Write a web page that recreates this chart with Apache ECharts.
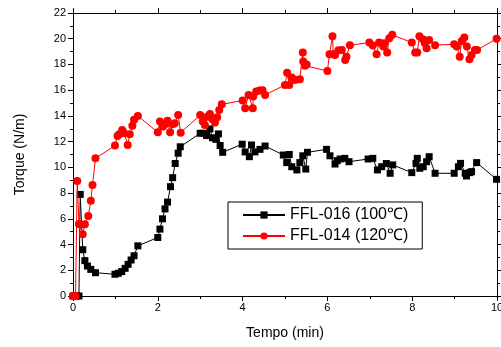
<!DOCTYPE html>
<html><head><meta charset="utf-8">
<script src="https://cdn.jsdelivr.net/npm/echarts@6/dist/echarts.min.js"></script>
<style>html,body{margin:0;padding:0;background:#fff}#c{width:501px;height:347px}</style>
</head><body><div id="c"></div>
<script>
var xTicks = [0,2,4,6,8,10];
var yTicks = [0,2,4,6,8,10,12,14,16,18,20,22];
var name016 = 'FFL-016 (100℃)';
var name014 = 'FFL-014 (120℃)';
var t016 = [0,0.04,0.08,0.14,0.17,0.23,0.28,0.34,0.42,0.53,0.99,1.07,1.15,1.23,1.30,1.37,1.44,1.53,2.0,2.05,2.11,2.17,2.23,2.30,2.35,2.41,2.48,2.53,3.0,3.09,3.15,3.23,3.29,3.37,3.43,3.47,3.53,3.99,4.06,4.16,4.21,4.29,4.41,4.53,4.96,5.04,5.10,5.16,5.28,5.35,5.42,5.49,5.53,5.98,6.06,6.18,6.23,6.30,6.41,6.51,6.96,7.07,7.18,7.28,7.39,7.48,7.54,7.99,8.09,8.12,8.18,8.26,8.34,8.40,8.54,8.99,9.09,9.14,9.25,9.28,9.36,9.40,9.52,9.99];
var tq016 = [0,0,0,0,7.9,3.6,2.75,2.33,2.07,1.81,1.69,1.77,1.9,2.15,2.46,2.8,3.13,3.9,4.55,5.2,6.0,6.77,7.3,8.5,9.2,10.3,11.1,11.6,12.65,12.65,12.47,12.99,12.3,12.18,12.6,11.7,11.17,11.8,11.2,10.83,11.74,11.2,11.4,11.66,10.96,10.37,11.0,10.05,9.8,10.37,10.9,9.87,11.17,11.4,10.9,10.26,10.52,10.65,10.7,10.44,10.65,10.7,9.8,10.05,10.3,9.54,10.19,9.59,10.31,10.7,9.93,10.05,10.44,10.83,9.54,9.54,10.05,10.31,9.54,9.33,9.59,9.67,10.37,9.07];
var t014 = [0,0.03,0.06,0.10,0.14,0.17,0.23,0.28,0.36,0.42,0.46,0.53,0.99,1.05,1.09,1.16,1.21,1.29,1.34,1.40,1.44,1.53,2.0,2.05,2.12,2.17,2.23,2.29,2.35,2.40,2.48,2.54,3.0,3.06,3.11,3.17,3.23,3.29,3.35,3.40,3.45,3.51,4.0,4.06,4.14,4.24,4.25,4.32,4.40,4.47,4.53,5.0,5.05,5.10,5.16,5.24,5.35,5.42,5.43,5.47,5.51,6.0,6.05,6.12,6.14,6.18,6.26,6.34,6.42,6.45,6.53,6.99,7.07,7.16,7.22,7.32,7.34,7.41,7.46,7.53,7.99,8.07,8.12,8.17,8.25,8.30,8.34,8.40,8.54,8.99,9.05,9.12,9.17,9.23,9.29,9.35,9.40,9.48,9.53,9.99];
var tq014 = [0,0,0,8.94,5.6,5.57,4.8,5.57,6.22,7.4,8.63,10.7,11.69,12.44,12.57,12.9,12.65,11.74,12.57,13.24,13.7,14.0,12.73,13.56,13.17,13.35,13.63,12.73,13.35,13.43,14.07,12.7,14.07,13.56,13.3,13.93,14.15,13.74,13.48,13.9,14.46,14.9,15.19,14.6,15.63,14.6,15.5,15.9,15.97,16.0,15.63,16.4,17.36,16.4,16.98,16.8,16.85,18.92,18.22,17.9,18.0,17.5,18.8,20.2,18.8,18.74,19.1,19.13,18.35,18.6,19.5,19.7,19.47,18.8,19.7,19.4,19.65,18.92,20.04,20.3,19.7,18.92,18.92,20.2,19.96,19.65,19.26,19.9,19.5,19.57,19.4,18.6,19.83,20.09,19.4,18.4,18.74,19.13,19.13,19.99];

function pairs(a,b){return a.map(function(v,i){return [v,b[i]];});}
var font = 'Liberation Sans, Arial, sans-serif';
var lineStyle = {color:'#000',width:1};
function xAx(pos, show){
  return {type:'value',position:pos,min:0,max:10,interval:2,
    axisLine:{show:true,onZero:false,lineStyle:lineStyle},
    axisTick:{show:true,length:5,lineStyle:lineStyle},
    minorTick:{show:true,splitNumber:2,length:3,lineStyle:lineStyle},
    splitLine:{show:false},
    axisLabel:{show:show,color:'#000',fontSize:11,fontFamily:font,margin:6,
      formatter:function(v){return xTicks.indexOf(v)>=0?String(v):'';}},
    name:show?'Tempo (min)':'',nameLocation:'middle',nameGap:30,
    nameTextStyle:{color:'#000',fontSize:14,fontFamily:font}};
}
function yAx(pos, show){
  return {type:'value',position:pos,min:0,max:22,interval:2,
    axisLine:{show:true,onZero:false,lineStyle:lineStyle},
    axisTick:{show:true,length:5,lineStyle:lineStyle},
    minorTick:{show:true,splitNumber:2,length:3,lineStyle:lineStyle},
    splitLine:{show:false},
    axisLabel:{show:show,color:'#000',fontSize:11,fontFamily:font,margin:7,
      formatter:function(v){return yTicks.indexOf(v)>=0?String(v):'';}},
    name:show?'Torque (N/m)':'',nameLocation:'middle',nameGap:46,nameRotate:90,
    nameTextStyle:{color:'#000',fontSize:14,fontFamily:font}};
}
var chart = echarts.init(document.getElementById('c'),null,{renderer:'canvas'});
chart.setOption({
  animation:false,
  backgroundColor:'#fff',
  grid:{left:73,right:4,top:13,bottom:51,containLabel:false,outerBoundsMode:'none'},
  xAxis:[xAx('bottom',true),xAx('top',false)],
  yAxis:[yAx('left',true),yAx('right',false)],
  legend:{
    orient:'vertical',left:228,top:202,
    backgroundColor:'#fff',borderColor:'#000',borderWidth:1,
    padding:[5,14,5,14],itemGap:5,itemWidth:42,itemHeight:9,
    textStyle:{color:'#000',fontSize:16,fontFamily:font},
    data:[name016,name014]
  },
  series:[
    {name:name016,type:'line',data:pairs(t016,tq016),symbol:'rect',symbolSize:7,
     lineStyle:{color:'#000',width:1},itemStyle:{color:'#000'},z:2},
    {name:name014,type:'line',data:pairs(t014,tq014),symbol:'circle',symbolSize:8,
     lineStyle:{color:'#ff0000',width:1},itemStyle:{color:'#ff0000'},z:3}
  ]
});
</script></body></html>
